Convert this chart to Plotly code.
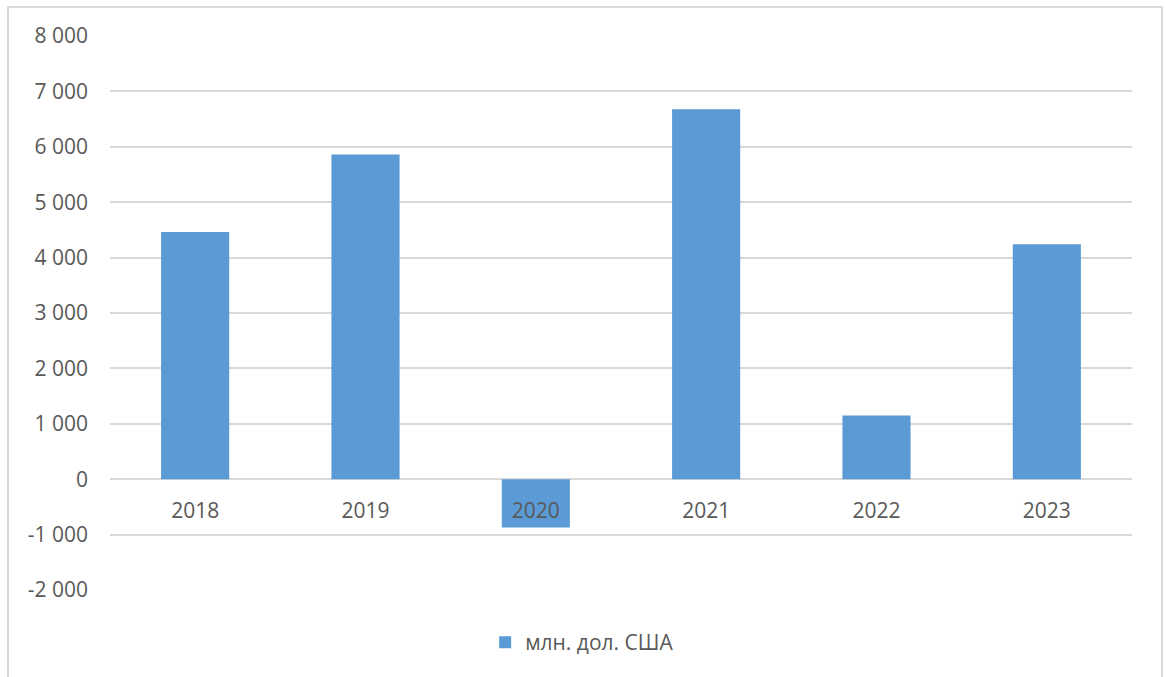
import plotly.graph_objects as go

# Annual values, million US dollars
years = ["2018", "2019", "2020", "2021", "2022", "2023"]
values = [4460, 5860, -870, 6680, 1150, 4240]
series_name = "млн. дол. США"

# Value axis ticks (hyphen minus, space as thousands separator)
y_tick_vals = [-2000, -1000, 0, 1000, 2000, 3000, 4000, 5000, 6000, 7000, 8000]
y_tick_text = ["-2 000", "-1 000", "0", "1 000", "2 000", "3 000", "4 000",
               "5 000", "6 000", "7 000", "8 000"]

BAR_COLOR = "#5B9BD5"
GRID_COLOR = "#D9D9D9"
TEXT_COLOR = "#595959"
FONT = "Open Sans"
FONT_SIZE = 21

fig = go.Figure()
fig.add_trace(go.Bar(
    x=years,
    y=values,
    name=series_name,
    marker=dict(color=BAR_COLOR, line=dict(width=0)),
    width=0.4,
    showlegend=True,
))

y_min, y_max = -2000, 8000

fig.update_layout(
    width=1166,
    height=677,
    margin=dict(l=110, r=34, t=36, b=87),
    paper_bgcolor="white",
    plot_bgcolor="white",
    font=dict(family=FONT, size=FONT_SIZE, color=TEXT_COLOR),
    showlegend=True,
    legend=dict(
        orientation="h",
        x=0.462,
        xanchor="center",
        y=-0.095,
        yanchor="middle",
        font=dict(family=FONT, size=FONT_SIZE, color=TEXT_COLOR),
        itemwidth=30,
    ),
    xaxis=dict(
        type="category",
        anchor="free",
        position=(0 - y_min) / (y_max - y_min),
        showgrid=False,
        showline=False,
        ticks="",
        ticklabelstandoff=17,
        tickfont=dict(family=FONT, size=FONT_SIZE, color=TEXT_COLOR),
    ),
    yaxis=dict(
        range=[y_min, y_max],
        tickvals=y_tick_vals,
        ticktext=y_tick_text,
        showgrid=True,
        gridcolor=GRID_COLOR,
        gridwidth=1.5,
        zeroline=True,
        zerolinecolor=GRID_COLOR,
        zerolinewidth=1.5,
        showline=False,
        ticks="",
        ticklabelstandoff=21,
        tickfont=dict(family=FONT, size=FONT_SIZE, color=TEXT_COLOR),
    ),
)

# Light outer frame of the chart area
plot_w = 1166 - 110 - 34
plot_h = 677 - 36 - 87
fig.add_shape(
    type="rect",
    xref="paper", yref="paper",
    x0=(8 - 110) / plot_w, x1=(1162 - 110) / plot_w,
    y0=(677 - 87 - 700) / plot_h, y1=(677 - 87 - 7) / plot_h,
    line=dict(color=GRID_COLOR, width=2),
    fillcolor="rgba(0,0,0,0)",
    layer="below",
)

fig.write_html("out.html")
